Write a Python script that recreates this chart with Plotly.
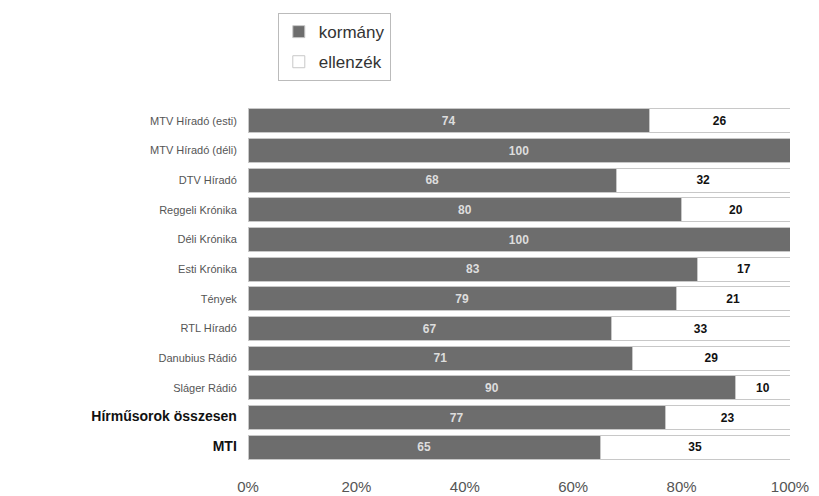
import plotly.graph_objects as go

categories = ["MTV Híradó (esti)", "MTV Híradó (déli)", "DTV Híradó", "Reggeli Krónika",
              "Déli Krónika", "Esti Krónika", "Tények", "RTL Híradó", "Danubius Rádió",
              "Sláger Rádió", "Hírműsorok összesen", "MTI"]
kormany = [74, 100, 68, 80, 100, 83, 79, 67, 71, 90, 77, 65]
ellenzek = [26, 0, 32, 20, 0, 17, 21, 33, 29, 10, 23, 35]
x_ticks = [0, 20, 40, 60, 80, 100]
x_ticklabels = ["0%", "20%", "40%", "60%", "80%", "100%"]

bold_cats = {"Hírműsorok összesen", "MTI"}
ticktext = []
for c in categories:
    if c in bold_cats:
        ticktext.append(f"<b><span style='font-size:14px;color:#111'>{c}</span></b>")
    else:
        ticktext.append(c)

fig = go.Figure()
fig.add_trace(go.Bar(
    y=categories, x=kormany, orientation="h", name="kormány", legendgroup="k",
    marker=dict(color="#6d6d6d", line=dict(color="#c8c8c8", width=1)),
    text=[f"<b>{v}</b>" if v else "" for v in kormany], textposition="inside",
    insidetextanchor="middle", textangle=0,
    textfont=dict(family="Arial, Liberation Sans", size=12, color="#dddddd"),
))
fig.add_trace(go.Bar(
    y=categories, x=ellenzek, orientation="h", name="ellenzék", legendgroup="e",
    marker=dict(color="#ffffff", line=dict(color="#c8c8c8", width=1)),
    text=[f"<b>{v}</b>" if v else "" for v in ellenzek], textposition="inside",
    insidetextanchor="middle", textangle=0,
    textfont=dict(family="Arial, Liberation Sans", size=12, color="#111"),
))

fig.update_layout(
    width=811, height=488, barmode="stack", bargap=0.2,
    plot_bgcolor="white", paper_bgcolor="white",
    margin=dict(l=240, r=29, t=98, b=34, autoexpand=False),
    font=dict(family="Arial, Liberation Sans", color="#444"),
    legend=dict(x=0.055, y=1.261, xanchor="left", yanchor="top",
                bordercolor="#bbbbbb", borderwidth=1, bgcolor="white",
                font=dict(size=17, color="#333"), traceorder="grouped",
                tracegroupgap=5, itemwidth=30),
    xaxis=dict(range=[0, 100], tickmode="array", tickvals=x_ticks,
               ticktext=x_ticklabels, automargin=False,
               showgrid=False, zeroline=False, showline=False,
               ticks="outside", ticklen=11, tickcolor="white",
               tickfont=dict(size=15, color="#555")),
    yaxis=dict(autorange="reversed", tickmode="array", tickvals=categories,
               ticktext=ticktext, showgrid=False, ticks="outside", automargin=False,
               ticklen=8, tickcolor="white",
               tickfont=dict(size=11, color="#555")),
)
fig.write_html("out.html")
